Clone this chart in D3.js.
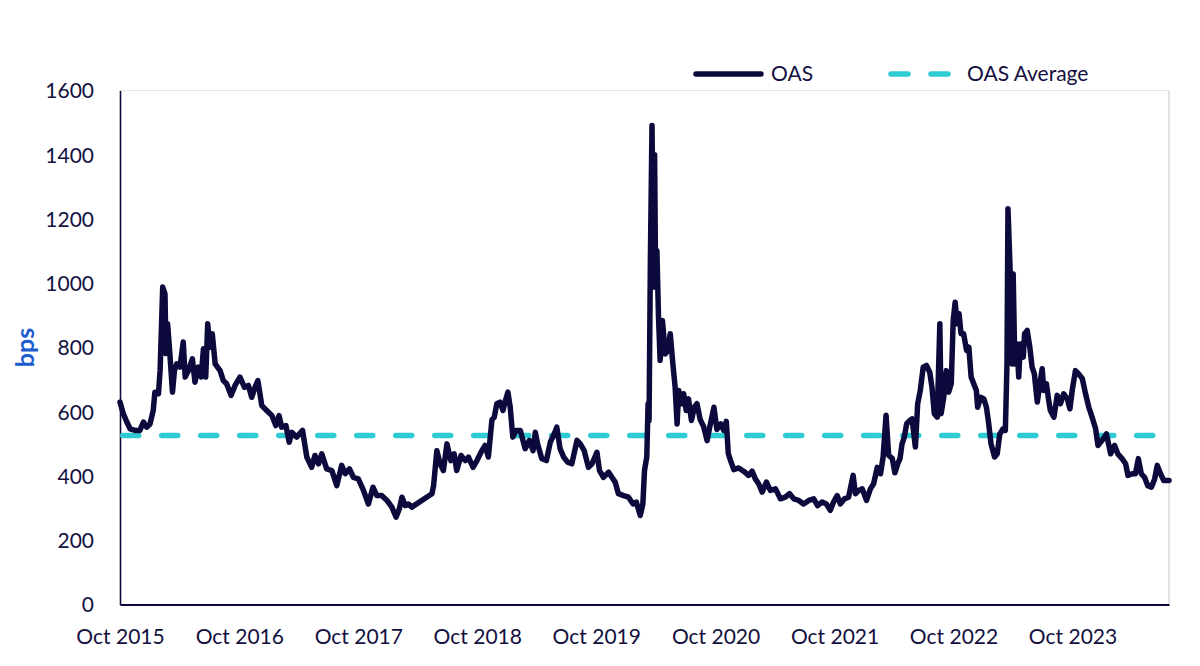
<!DOCTYPE html>
<html>
<head>
<meta charset="utf-8">
<script src="https://cdn.jsdelivr.net/npm/d3@7"></script>
<style>
  html, body { margin: 0; padding: 0; background: #fff; overflow: hidden; }
  svg { display: block; font-family: Lato, sans-serif; }
</style>
</head>
<body>
<svg></svg>
<script>
// OAS readings (bps), dates and values kept in parallel arrays
const oasDates = [
  "2015-10-01","2015-10-11","2015-10-22","2015-11-01","2015-11-16","2015-12-01","2015-12-12","2015-12-22",
  "2016-01-01","2016-01-11","2016-01-16","2016-01-27","2016-02-01","2016-02-09","2016-02-16","2016-02-19",
  "2016-02-24","2016-03-02","2016-03-10","2016-03-16","2016-03-23","2016-04-02","2016-04-12","2016-04-18",
  "2016-04-28","2016-05-10","2016-05-18","2016-05-28","2016-06-06","2016-06-13","2016-06-20","2016-06-26",
  "2016-07-03","2016-07-10","2016-07-19","2016-08-03","2016-08-13","2016-08-23","2016-09-06","2016-09-18",
  "2016-10-03","2016-10-17","2016-10-29","2016-11-08","2016-11-18","2016-11-27","2016-12-09","2016-12-24",
  "2017-01-09","2017-01-21","2017-01-31","2017-02-08","2017-02-21","2017-03-03","2017-03-11","2017-03-26",
  "2017-04-13","2017-04-26","2017-05-11","2017-05-21","2017-06-01","2017-06-11","2017-06-26","2017-07-12",
  "2017-07-27","2017-08-11","2017-08-22","2017-09-04","2017-09-16","2017-10-01","2017-10-17","2017-11-01",
  "2017-11-15","2017-11-27","2017-12-12","2017-12-28","2018-01-12","2018-01-25","2018-02-04","2018-02-12",
  "2018-02-22","2018-03-04","2018-03-14","2018-05-15","2018-05-20","2018-05-30","2018-06-09","2018-06-19",
  "2018-06-30","2018-07-12","2018-07-22","2018-07-30","2018-08-12","2018-08-25","2018-09-04","2018-09-18",
  "2018-09-30","2018-10-15","2018-10-25","2018-11-04","2018-11-15","2018-11-22","2018-11-30","2018-12-10",
  "2018-12-19","2018-12-25","2019-01-03","2019-01-10","2019-01-18","2019-01-28","2019-02-10","2019-02-25",
  "2019-03-10","2019-03-21","2019-03-28","2019-04-04","2019-04-17","2019-05-01","2019-05-13","2019-05-25",
  "2019-06-02","2019-06-12","2019-06-23","2019-07-05","2019-07-18","2019-08-03","2019-08-13","2019-08-25",
  "2019-09-07","2019-09-18","2019-10-03","2019-10-11","2019-10-23","2019-11-08","2019-11-18","2019-11-28",
  "2019-12-08","2019-12-24","2020-01-08","2020-01-22","2020-02-01","2020-02-13","2020-02-21","2020-02-26",
  "2020-03-04","2020-03-08","2020-03-11","2020-03-15","2020-03-20","2020-03-23","2020-03-25","2020-03-28",
  "2020-03-31","2020-04-04","2020-04-09","2020-04-14","2020-04-21","2020-04-30","2020-05-08","2020-05-15",
  "2020-05-23","2020-05-30","2020-06-05","2020-06-10","2020-06-18","2020-06-25","2020-07-03","2020-07-10",
  "2020-07-19","2020-07-28","2020-08-05","2020-08-15","2020-08-25","2020-09-05","2020-09-13","2020-09-26",
  "2020-10-05","2020-10-17","2020-10-26","2020-11-03","2020-11-09","2020-11-16","2020-11-26","2020-12-11",
  "2020-12-26","2021-01-10","2021-01-21","2021-01-31","2021-02-10","2021-02-21","2021-03-06","2021-03-18",
  "2021-04-03","2021-04-18","2021-05-03","2021-05-16","2021-05-29","2021-06-13","2021-06-28","2021-07-14",
  "2021-07-29","2021-08-10","2021-08-24","2021-09-06","2021-09-18","2021-09-28","2021-10-09","2021-10-19",
  "2021-10-31","2021-11-13","2021-11-27","2021-12-04","2021-12-14","2021-12-25","2022-01-07","2022-01-19",
  "2022-01-29","2022-02-09","2022-02-19","2022-02-27","2022-03-08","2022-03-16","2022-03-27","2022-04-04",
  "2022-04-13","2022-04-20","2022-04-26","2022-05-03","2022-05-10","2022-05-20","2022-05-27","2022-06-06",
  "2022-06-13","2022-06-21","2022-06-30","2022-07-10","2022-07-20","2022-07-27","2022-08-03","2022-08-12",
  "2022-08-20","2022-08-24","2022-09-01","2022-09-09","2022-09-16","2022-09-24","2022-09-30","2022-10-06",
  "2022-10-12","2022-10-18","2022-10-24","2022-11-01","2022-11-10","2022-11-17","2022-11-24","2022-12-02",
  "2022-12-10","2022-12-14","2022-12-23","2023-01-02","2023-01-10","2023-01-17","2023-01-24","2023-02-04",
  "2023-02-12","2023-02-20","2023-03-02","2023-03-09","2023-03-14","2023-03-17","2023-03-24","2023-03-30",
  "2023-04-02","2023-04-07","2023-04-14","2023-04-19","2023-04-24","2023-05-03","2023-05-07","2023-05-15",
  "2023-05-23","2023-05-30","2023-06-06","2023-06-15","2023-06-23","2023-06-30","2023-07-05","2023-07-13",
  "2023-07-20","2023-07-25","2023-08-05","2023-08-15","2023-08-25","2023-09-04","2023-09-15","2023-09-23",
  "2023-09-30","2023-10-10","2023-10-20","2023-10-31","2023-11-10","2023-11-20","2023-11-30","2023-12-11",
  "2023-12-18","2023-12-31","2024-01-13","2024-01-26","2024-02-07","2024-02-17","2024-03-01","2024-03-12",
  "2024-03-19","2024-04-01","2024-04-11","2024-04-20","2024-04-29","2024-05-09","2024-05-19","2024-05-30",
  "2024-06-09","2024-06-17","2024-06-27","2024-07-07","2024-07-23"
];
const oasValues = [
  630,594,568,547,542,542,568,552,
  562,604,661,656,728,988,967,781,
  874,780,661,728,749,739,817,708,
  728,765,692,739,708,796,708,874,
  801,843,749,728,697,687,651,682,
  708,676,682,645,676,697,619,604,
  588,557,588,552,557,505,536,521,
  542,459,427,464,438,469,422,417,
  370,433,407,422,396,391,355,313,
  365,339,339,324,303,272,298,334,
  308,313,303,345,370,479,438,417,
  500,448,469,417,464,448,459,427,
  448,479,495,459,575,583,625,630,
  604,630,661,614,521,542,542,485,
  511,479,536,500,454,448,505,531,
  552,485,459,443,438,511,500,479,
  427,438,474,417,396,412,396,381,
  345,339,334,313,319,277,313,417,
  459,625,573,1071,1491,1226,988,1400,
  1019,1102,894,760,884,780,791,843,
  749,676,562,666,625,656,604,640,
  573,614,625,575,555,510,552,614,
  545,562,542,570,470,448,420,425,
  415,402,415,391,376,350,381,355,
  360,329,334,345,329,324,313,324,
  329,308,319,313,293,319,339,313,
  329,334,402,345,355,360,324,360,
  376,427,407,459,589,464,455,410,
  438,455,500,521,562,573,578,490,
  625,666,739,744,723,676,594,583,
  874,594,645,728,661,687,884,941,
  874,905,843,843,791,801,708,687,
  666,614,645,640,614,562,500,459,
  469,531,547,542,749,1232,1029,749,
  1029,749,811,708,811,770,843,853,
  801,739,718,630,687,734,666,687,
  635,604,583,651,625,656,640,609,
  666,728,718,703,656,614,583,547,
  495,511,531,469,495,469,454,438,
  402,407,407,454,407,396,370,365,
  391,433,407,386,386
];
const oasAverage = [526];
const yTicks = [0, 200, 400, 600, 800, 1000, 1200, 1400, 1600];
const xTickDates = ["2015-10-01","2016-10-01","2017-10-01","2018-10-01","2019-10-01",
  "2020-10-01","2021-10-01","2022-10-01","2023-10-01"];
const seriesNames = ["OAS", "OAS Average"];

const navy = "#0c0a3c";
const cyan = "#2ecbd3";
const textColor = "#13103f";

const parse = d3.timeParse("%Y-%m-%d");
const data = oasDates.map((d, i) => ({ date: parse(d), value: oasValues[i] }));

const width = 1200;
const height = 666;
const margin = { top: 90.5, right: 31, bottom: 61.5, left: 120 };
const innerWidth = width - margin.left - margin.right;
const innerHeight = height - margin.top - margin.bottom;

const svg = d3.select('svg').attr('width', width).attr('height', height);
const g = svg.append('g').attr('transform', `translate(${margin.left},${margin.top})`);

const xScale = d3.scaleTime()
  .domain(d3.extent(data, d => d.date))
  .range([0, innerWidth]);
const yScale = d3.scaleLinear()
  .domain([0, 1600])
  .range([innerHeight, 0]);

// light frame on top and right
g.append('line').attr('x1', 0).attr('x2', innerWidth).attr('y1', 0).attr('y2', 0)
  .attr('stroke', '#e6e6e6').attr('stroke-width', 1.2);
g.append('line').attr('x1', innerWidth).attr('x2', innerWidth).attr('y1', 0).attr('y2', innerHeight)
  .attr('stroke', '#d9d9d9').attr('stroke-width', 1.5);

// axes
const yAxis = d3.axisLeft(yScale).tickValues(yTicks).tickFormat(d3.format('d'))
  .tickSize(0).tickPadding(26);
const xAxis = d3.axisBottom(xScale)
  .tickValues(xTickDates.map(parse))
  .tickFormat(d3.timeFormat("%b %Y"))
  .tickSize(0).tickPadding(25);

const gy = g.append('g').call(yAxis);
const gx = g.append('g').attr('transform', `translate(0,${innerHeight})`).call(xAxis);
[gx, gy].forEach(a => {
  a.attr('font-family', 'Lato, sans-serif').attr('font-size', 21);
  a.selectAll('text').attr('fill', textColor);
});
gy.select('.domain').attr('stroke', navy).attr('stroke-width', 1.6);
gx.select('.domain').attr('stroke', navy).attr('stroke-width', 2);
gy.selectAll('text').attr('dy', '0.35em');

// y title
svg.append('text')
  .attr('transform', `translate(34,${margin.top + yScale(800)}) rotate(-90)`)
  .attr('text-anchor', 'middle')
  .attr('fill', '#1c5bd0')
  .attr('font-size', 25).attr('font-weight', 'bold')
  .text('bps');

// average line
g.append('path')
  .datum(xScale.domain())
  .attr('d', d3.line().x(d => xScale(d)).y(() => yScale(oasAverage[0])))
  .attr('fill', 'none').attr('stroke', cyan).attr('stroke-width', 5.5)
  .attr('stroke-linecap', 'round').attr('stroke-dasharray', '16,23').attr('stroke-dashoffset', -2.75);

// OAS line
g.append('path')
  .datum(data)
  .attr('d', d3.line().x(d => xScale(d.date)).y(d => yScale(d.value)))
  .attr('fill', 'none').attr('stroke', navy).attr('stroke-width', 5.5)
  .attr('stroke-linejoin', 'round').attr('stroke-linecap', 'round');

// legend
const legend = svg.append('g').attr('transform', 'translate(0,74)');
legend.append('line').attr('x1', 696).attr('x2', 761).attr('y1', 0).attr('y2', 0)
  .attr('stroke', navy).attr('stroke-width', 5.5).attr('stroke-linecap', 'round');
legend.append('text').attr('x', 771).attr('y', 7).attr('fill', textColor)
  .attr('font-size', 21).text(seriesNames[0]);
legend.append('line').attr('x1', 891).attr('x2', 951).attr('y1', 0).attr('y2', 0)
  .attr('stroke', cyan).attr('stroke-width', 5.5).attr('stroke-linecap', 'round')
  .attr('stroke-dasharray', '17,23');
legend.append('text').attr('x', 967).attr('y', 7).attr('fill', textColor)
  .attr('font-size', 21).text(seriesNames[1]);
</script>
</body>
</html>
